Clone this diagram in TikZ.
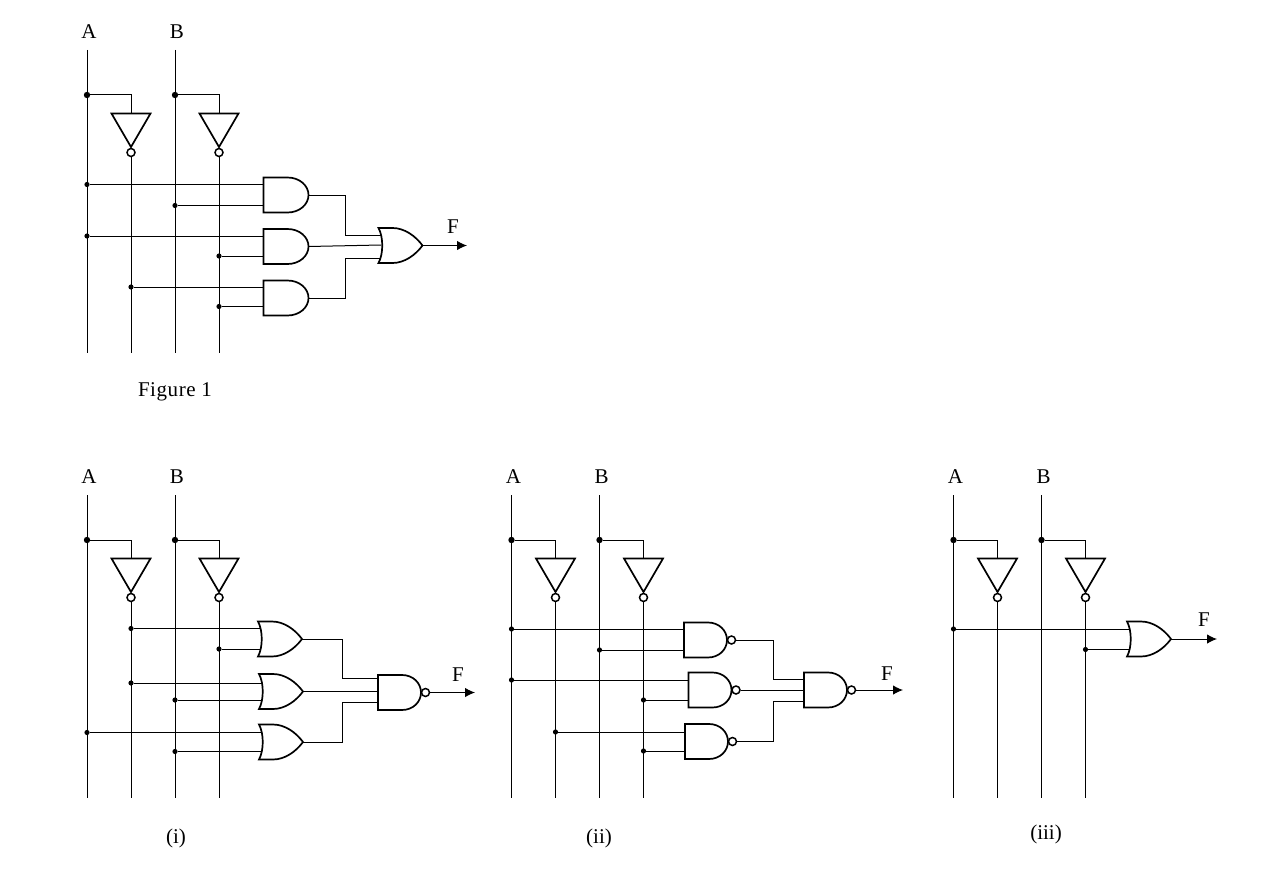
\documentclass[tikz,border=0pt]{standalone}
\usepackage{fontspec}
\setmainfont{Liberation Serif}
\usetikzlibrary{arrows.meta}
\tikzset{
  wire/.style={line width=1pt},
  gateline/.style={line width=1.7pt,line join=miter},
  dot/.style={circle,fill=black,inner sep=0pt,minimum size=5.2pt},
  bigdot/.style={circle,fill=black,inner sep=0pt,minimum size=6.4pt},
  bubble/.style={circle,draw,fill=white,line width=1.5pt,inner sep=0pt,minimum size=8pt},
  txt/.style={font=\fontsize{21}{25}\selectfont,inner sep=0pt},
  captxt/.style={font=\fontsize{21}{25}\selectfont\addfontfeature{LetterSpace=2.7},inner sep=0pt},
  outarrow/.style={wire,-{Latex[length=10pt,width=9.5pt]}},
  pics/rails/.style={code={
    \node[txt] (-la) at (2,-18) {A};
    \node[txt] (-lb) at (90,-18) {B};
    \coordinate (-a) at (0,0); \coordinate (-abot) at (0,303);
    \coordinate (-b) at (88,0); \coordinate (-bbot) at (88,303);
    \coordinate (-nabot) at (44,303); \coordinate (-nbbot) at (132,303);
    \draw[wire] (-a) -- (-abot);
    \draw[wire] (-b) -- (-bbot);
    \node[bigdot] (-da) at (0,45) {};
    \node[bigdot] (-db) at (88,45) {};
    \coordinate (-ia) at (44,63.5); \coordinate (-ib) at (132,63.5);
    \draw[wire] (-da) -| (-ia);
    \draw[wire] (-db) -| (-ib);
    \draw[gateline] (24.5,63.5) -- (63.5,63.5) -- (44,97) -- cycle;
    \draw[gateline] (112.5,63.5) -- (151.5,63.5) -- (132,97) -- cycle;
    \node[bubble] (-na) at (44,102.5) {};
    \node[bubble] (-nb) at (132,102.5) {};
    \draw[wire] (-na) -- (-nabot);
    \draw[wire] (-nb) -- (-nbbot);
  }},
  pics/andgate/.style={code={
    \draw[gateline] (0,0) -- (24,0) .. controls (36,0) and (45,8) .. (45,17.5)
      .. controls (45,27) and (36,35) .. (24,35) -- (0,35) -- cycle;
    \coordinate (-w) at (0,17.5); \coordinate (-o) at (45,17.5);
  }},
  pics/nandgate/.style={code={
    \draw[gateline] (0,0) -- (24,0) .. controls (35,0) and (43,8) .. (43,17.5)
      .. controls (43,27) and (35,35) .. (24,35) -- (0,35) -- cycle;
    \coordinate (-w) at (0,17.5);
    \node[bubble] (-o) at (47.5,17.5) {};
  }},
  pics/orgate/.style={code={
    \draw[gateline] (0,0) -- (14,0) .. controls (26,0) and (37,8) .. (44,17.5)
      .. controls (37,27) and (26,35) .. (14,35) -- (0,35)
      .. controls (5,26) and (5,9) .. (0,0) -- cycle;
    \coordinate (-w) at (2.5,17.5); \coordinate (-o) at (44,17.5);
  }}
}
\begin{document}
\begin{tikzpicture}[x=1pt,y=-1pt]
  \useasboundingbox (0,0) rectangle (1287,888);
  % figure 1
  \pic (fig) at (87,50) {rails};
  \pic (a1) at (263.5,177.5) {andgate};
  \pic (a2) at (263.5,229) {andgate};
  \pic (a3) at (263.5,280.5) {andgate};
  \pic (o1) at (378.5,228) {orgate};
  \node[dot] (j1) at (87,184.5) {};
  \node[dot] (j2) at (175,205.5) {};
  \node[dot] (j3) at (87,236) {};
  \node[dot] (j4) at (219,256) {};
  \node[dot] (j5) at (131,287) {};
  \node[dot] (j6) at (219,306.5) {};
  \draw[wire] (j1) -- (j1 -| a1-w);
  \draw[wire] (j2) -- (j2 -| a1-w);
  \draw[wire] (j3) -- (j3 -| a2-w);
  \draw[wire] (j4) -- (j4 -| a2-w);
  \draw[wire] (j5) -- (j5 -| a3-w);
  \draw[wire] (j6) -- (j6 -| a3-w);
  \coordinate (m1) at (345.5,235);
  \coordinate (m2) at (381,245);
  \coordinate (m3) at (345.5,258.5);
  \coordinate (fout) at (467,245.5);
  \draw[wire] (a1-o) -| (m1) -- (m1 -| o1-w);
  \draw[wire] (a2-o) -- (m2);
  \draw[wire] (a3-o) -| (m3) -- (m3 -| o1-w);
  \draw[outarrow] (o1-o) -- (fout);
  \node[txt] (fF) at (453,226.5) {F};
  \node[captxt] (cap1) at (175,392) {Figure 1};
  % figure (i)
  \pic (pi) at (87,495) {rails};
  \pic (b1) at (258,621.5) {orgate};
  \pic (b2) at (259,674) {orgate};
  \pic (b3) at (259,724.5) {orgate};
  \pic (b4) at (378,675) {nandgate};
  \node[dot] (k1) at (131,628.5) {};
  \node[dot] (k2) at (219,649) {};
  \node[dot] (k3) at (131,683) {};
  \node[dot] (k4) at (175,700) {};
  \node[dot] (k5) at (87,732.5) {};
  \node[dot] (k6) at (175,751.5) {};
  \draw[wire] (k1) -- (k1 -| b1-w);
  \draw[wire] (k2) -- (k2 -| b1-w);
  \draw[wire] (k3) -- (k3 -| b2-w);
  \draw[wire] (k4) -- (k4 -| b2-w);
  \draw[wire] (k5) -- (k5 -| b3-w);
  \draw[wire] (k6) -- (k6 -| b3-w);
  \coordinate (n1) at (342,678.5);
  \coordinate (n3) at (342.5,702);
  \coordinate (iout) at (475,692.5);
  \draw[wire] (b1-o) -| (n1) -- (n1 -| b4-w);
  \draw[wire] (b2-o) -- (b2-o -| b4-w);
  \draw[wire] (b3-o) -| (n3) -- (n3 -| b4-w);
  \draw[outarrow] (b4-o) -- (iout);
  \node[txt] (iF) at (458,674.5) {F};
  \node[txt] (cap2) at (176,838.5) {(i)};
  % figure (ii)
  \pic (pii) at (511.5,495) {rails};
  \pic (c1) at (684,622.5) {nandgate};
  \pic (c2) at (688.5,672.5) {nandgate};
  \pic (c3) at (685,724) {nandgate};
  \pic (c4) at (804,672.5) {nandgate};
  \node[dot] (l1) at (511.5,629) {};
  \node[dot] (l2) at (599.5,650) {};
  \node[dot] (l3) at (511.5,680) {};
  \node[dot] (l4) at (643.5,700) {};
  \node[dot] (l5) at (555.5,732) {};
  \node[dot] (l6) at (643.5,751) {};
  \draw[wire] (l1) -- (l1 -| c1-w);
  \draw[wire] (l2) -- (l2 -| c1-w);
  \draw[wire] (l3) -- (l3 -| c2-w);
  \draw[wire] (l4) -- (l4 -| c2-w);
  \draw[wire] (l5) -- (l5 -| c3-w);
  \draw[wire] (l6) -- (l6 -| c3-w);
  \coordinate (p1) at (773,679);
  \coordinate (p3) at (773.5,701.5);
  \coordinate (iiout) at (903,690);
  \draw[wire] (c1-o) -| (p1) -- (p1 -| c4-w);
  \draw[wire] (c2-o) -- (c2-o -| c4-w);
  \draw[wire] (c3-o) -| (p3) -- (p3 -| c4-w);
  \draw[outarrow] (c4-o) -- (iiout);
  \node[txt] (iiF) at (887,673.5) {F};
  \node[txt] (cap3) at (599,838.5) {(ii)};
  % figure (iii)
  \pic (piii) at (953.5,495) {rails};
  \pic (d1) at (1127,621.5) {orgate};
  \node[dot] (q1) at (953.5,629) {};
  \node[dot] (q2) at (1085.5,649.5) {};
  \draw[wire] (q1) -- (q1 -| d1-w);
  \draw[wire] (q2) -- (q2 -| d1-w);
  \coordinate (iiiout) at (1217,639);
  \draw[outarrow] (d1-o) -- (iiiout);
  \node[txt] (iiiF) at (1204,619.5) {F};
  \node[txt] (cap4) at (1046,834.5) {(iii)};
\end{tikzpicture}
\end{document}
